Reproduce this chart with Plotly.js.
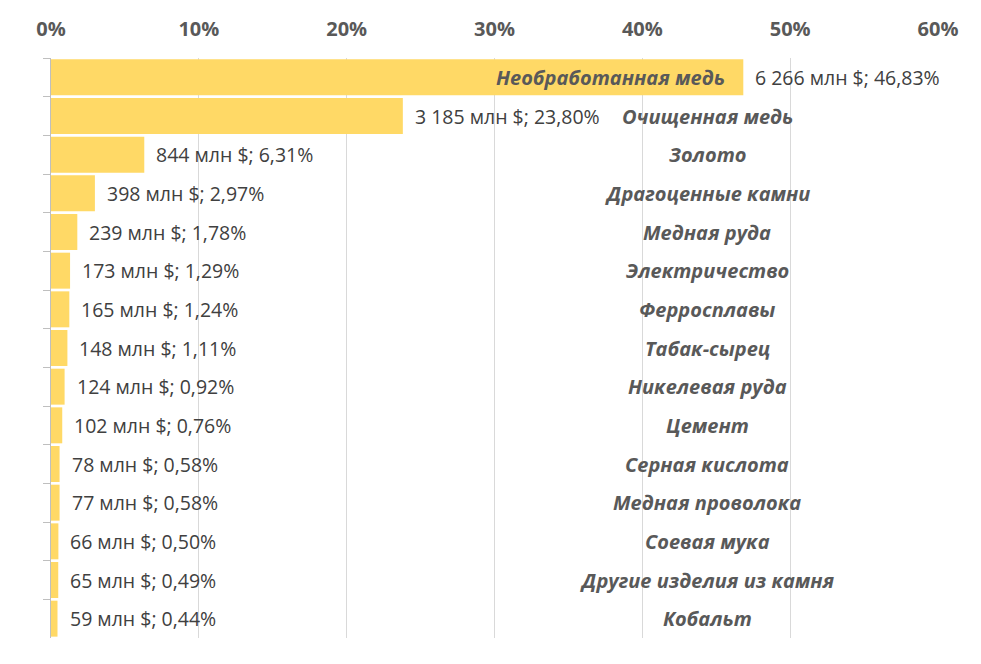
<!DOCTYPE html>
<html>
<head>
<meta charset="utf-8">
<script src="https://cdn.plot.ly/plotly-3.0.1.min.js"></script>
<style>
  html, body { margin: 0; padding: 0; background: #fff; }
  #chart { width: 981px; height: 664px; }
</style>
</head>
<body>
<div id="chart"></div>
<script>
const categories = [
  'Необработанная медь', 'Очищенная медь', 'Золото', 'Драгоценные камни',
  'Медная руда', 'Электричество', 'Ферросплавы', 'Табак-сырец',
  'Никелевая руда', 'Цемент', 'Серная кислота', 'Медная проволока',
  'Соевая мука', 'Другие изделия из камня', 'Кобальт',
];
const valuesMln = [6266, 3185, 844, 398, 239, 173, 165, 148, 124, 102, 78, 77, 66, 65, 59];
const sharesPct = [46.83, 23.80, 6.31, 2.97, 1.78, 1.29, 1.24, 1.11, 0.92, 0.76, 0.58, 0.58, 0.50, 0.49, 0.44];
const tickVals = [0, 10, 20, 30, 40, 50, 60];
const tickText = ['0%', '10%', '20%', '30%', '40%', '50%', '60%'];

const FONT = '"Open Sans", "Noto Sans", sans-serif';
const NAME_X = 44.4; // where the category names are centred

function fmtMln(v) {
  return String(v).replace(/\B(?=(\d{3})+(?!\d))/g, ' ');
}
function fmtPct(p) {
  return p.toFixed(2).replace('.', ',') + '%';
}

const trace = {
  type: 'bar',
  orientation: 'h',
  y: categories,
  x: sharesPct,
  marker: { color: '#FFD966', line: { width: 0 } },
  hoverinfo: 'skip',
};

const annotations = [];
categories.forEach((cat, i) => {
  // value label right of the bar
  annotations.push({
    x: sharesPct[i], y: cat, xref: 'x', yref: 'y',
    text: `${fmtMln(valuesMln[i])} млн $; ${fmtPct(sharesPct[i])}`,
    showarrow: false, xanchor: 'left', xshift: 10,
    font: { family: FONT, size: 19.5, color: '#404040' },
  });
  // category name, inside the bar when the bar reaches past the name column
  const inside = sharesPct[i] > NAME_X;
  annotations.push({
    x: inside ? sharesPct[i] : NAME_X, y: cat, xref: 'x', yref: 'y',
    text: `<b><i>${cat}</i></b>`,
    showarrow: false,
    xanchor: inside ? 'right' : 'center',
    xshift: inside ? -16 : 0,
    font: { family: FONT, size: 20, color: '#595959' },
  });
});

const layout = {
  width: 981,
  height: 664,
  margin: { l: 51, r: 43, t: 58, b: 26 },
  paper_bgcolor: '#fff',
  plot_bgcolor: '#fff',
  showlegend: false,
  bargap: 0.07,
  xaxis: {
    side: 'top',
    range: [0, 60],
    tickvals: tickVals,
    ticktext: tickText,
    showgrid: true,
    gridcolor: '#d9d9d9',
    gridwidth: 1,
    zeroline: false,
    showline: false,
    ticks: '',
    ticklabelstandoff: 17,
    tickfont: { family: FONT, size: 20, color: '#595959', weight: 'bold' },
    fixedrange: true,
  },
  yaxis: {
    type: 'category',
    autorange: 'reversed',
    showticklabels: false,
    showgrid: false,
    zeroline: false,
    showline: true,
    linecolor: '#bfbfbf',
    linewidth: 1,
    ticks: 'outside',
    tickson: 'boundaries',
    ticklen: 7,
    tickcolor: '#bfbfbf',
    fixedrange: true,
  },
  annotations,
};

Plotly.newPlot('chart', [trace], layout, { displayModeBar: false, staticPlot: true });
</script>
</body>
</html>
